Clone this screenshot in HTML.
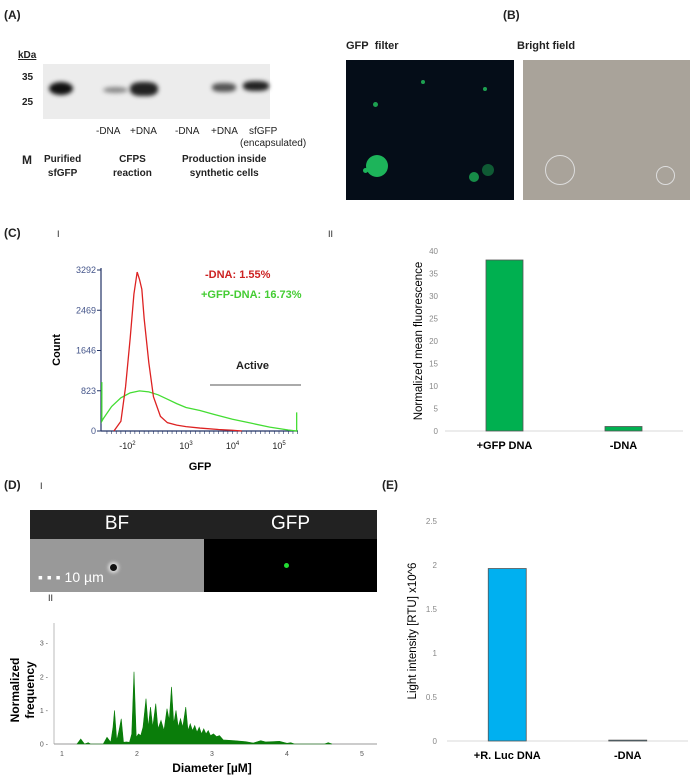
<!DOCTYPE html>
<html><head><meta charset="utf-8"><style>
body{margin:0;width:700px;height:782px;background:#fff;position:relative;overflow:hidden;font-family:"Liberation Sans",sans-serif}
.t{position:absolute;white-space:nowrap;color:#222}
.b{font-weight:bold}
svg{position:absolute;left:0;top:0}
</style></head><body>
<div class="t b" style="left:4px;top:8px;font-size:12px">(A)</div>
<div class="t b" style="left:18px;top:50px;font-size:10px;text-decoration:underline">kDa</div>
<div class="t b" style="left:22px;top:72px;font-size:10px">35</div>
<div class="t b" style="left:22px;top:97px;font-size:10px">25</div>
<div style="position:absolute;left:43px;top:64px;width:227px;height:55px;background:#ececec">
 <div style="position:absolute;left:6px;top:18px;width:24px;height:13px;border-radius:50%;background:#111;filter:blur(2px)"></div>
 <div style="position:absolute;left:60px;top:23px;width:25px;height:6px;border-radius:50%;background:#888;filter:blur(2px)"></div>
 <div style="position:absolute;left:87px;top:18px;width:28px;height:14px;border-radius:40%;background:#222;filter:blur(2px)"></div>
 <div style="position:absolute;left:169px;top:19px;width:24px;height:9px;border-radius:40%;background:#555;filter:blur(2px)"></div>
 <div style="position:absolute;left:200px;top:17px;width:26px;height:10px;border-radius:40%;background:#222;filter:blur(2px)"></div>
</div>
<div class="t" style="left:96px;top:126px;font-size:10px">-DNA</div>
<div class="t" style="left:130px;top:126px;font-size:10px">+DNA</div>
<div class="t" style="left:175px;top:126px;font-size:10px">-DNA</div>
<div class="t" style="left:211px;top:126px;font-size:10px">+DNA</div>
<div class="t" style="left:249px;top:126px;font-size:10px">sfGFP</div>
<div class="t" style="left:240px;top:138px;font-size:10px">(encapsulated)</div>
<div class="t b" style="left:22px;top:153px;font-size:12px">M</div>
<div class="t b" style="left:44px;top:153px;font-size:10px;text-align:center;line-height:14px">Purified<br>sfGFP</div>
<div class="t b" style="left:113px;top:153px;font-size:10px;text-align:center;line-height:14px">CFPS<br>reaction</div>
<div class="t b" style="left:182px;top:153px;font-size:10px;text-align:center;line-height:14px">Production inside<br>synthetic cells</div>

<div class="t b" style="left:503px;top:8px;font-size:12px">(B)</div>
<div class="t b" style="left:346px;top:40px;font-size:11px">GFP&nbsp; filter</div>
<div class="t b" style="left:517px;top:40px;font-size:11px">Bright field</div>
<div style="position:absolute;left:346px;top:60px;width:168px;height:140px;background:#050d18;overflow:hidden">
 <div style="position:absolute;left:20px;top:95px;width:22px;height:22px;border-radius:50%;background:#1db45a"></div>
 <div style="position:absolute;left:17px;top:108px;width:5px;height:5px;border-radius:50%;background:#1db45a"></div>
 <div style="position:absolute;left:27px;top:42px;width:5px;height:5px;border-radius:50%;background:#1da050"></div>
 <div style="position:absolute;left:75px;top:20px;width:4px;height:4px;border-radius:50%;background:#1da050"></div>
 <div style="position:absolute;left:137px;top:27px;width:4px;height:4px;border-radius:50%;background:#1da050"></div>
 <div style="position:absolute;left:123px;top:112px;width:10px;height:10px;border-radius:50%;background:#178c48"></div>
 <div style="position:absolute;left:136px;top:104px;width:12px;height:12px;border-radius:50%;background:#0f5a34"></div>
</div>
<div style="position:absolute;left:523px;top:60px;width:167px;height:140px;background:#a9a39a;overflow:hidden">
 <div style="position:absolute;left:22px;top:95px;width:28px;height:28px;border-radius:50%;border:1px solid #ddd"></div>
 <div style="position:absolute;left:133px;top:106px;width:17px;height:17px;border-radius:50%;border:1px solid #ddd"></div>
</div>

<div class="t b" style="left:4px;top:226px;font-size:12px">(C)</div>
<div class="t" style="left:57px;top:229px;font-size:9px">I</div>
<div class="t" style="left:328px;top:229px;font-size:9px">II</div>
<div class="t" style="left:48px;top:593px;font-size:9px">II</div>
<div class="t b" style="left:4px;top:587px;font-size:12px;top:478px">(D)</div>
<div class="t" style="left:40px;top:481px;font-size:9px">I</div>
<div class="t b" style="left:382px;top:478px;font-size:12px">(E)</div>

<div style="position:absolute;left:30px;top:510px;width:347px;height:82px;background:#222">
 <div class="t" style="left:0;width:174px;top:3px;text-align:center;color:#fff;font-size:19px">BF</div>
 <div class="t" style="left:174px;width:173px;top:3px;text-align:center;color:#fff;font-size:19px">GFP</div>
 <div style="position:absolute;left:0;top:29px;width:174px;height:53px;background:#999">
  <div style="position:absolute;left:80px;top:25px;width:7px;height:7px;border-radius:50%;background:#111;box-shadow:0 0 3px 2px #ddd"></div>
  <div class="t" style="left:8px;top:30px;color:#fff;font-size:14px">▪ ▪ ▪ 10 µm</div>
 </div>
 <div style="position:absolute;left:174px;top:29px;width:173px;height:53px;background:#000">
  <div style="position:absolute;left:80px;top:24px;width:5px;height:5px;border-radius:50%;background:#22dd33"></div>
 </div>
</div>

<svg id="s" width="700" height="782" font-family="Liberation Sans, sans-serif"></svg>
<script>
// C-I flow cytometry (x in log-decade units, y counts)
const redX=[1.45,1.6,1.7,1.8,1.88,1.95,2.0,2.05,2.1,2.2,2.3,2.45,2.6,2.8,3.0,3.3,3.7,4.0,4.2];
const redY=[0,200,900,1900,2800,3250,3100,2900,2300,1400,700,300,170,120,90,60,30,15,0];
const greenX=[1.19,1.19,1.22,1.4,1.6,1.8,2.0,2.2,2.4,2.6,2.8,3.0,3.3,3.6,4.0,4.4,4.8,5.2,5.38,5.38];
const greenY=[1000,200,250,500,680,780,820,800,740,650,560,480,420,340,240,160,80,20,0,380];
const flowTicksY=[0,823,1646,2469,3292];
const flowTicksX=[[1.74,"-10","2"],[3,"10","3"],[4,"10","4"],[5,"10","5"]];
// C-II
const fluoCats=["+GFP DNA","-DNA"];
const fluoVals=[38,1];
const fluoTicks=[0,5,10,15,20,25,30,35,40];
// E
const lucCats=["+R. Luc DNA","-DNA"];
const lucVals=[1.96,0.01];
const lucTicks=["0","0.5","1","1.5","2","2.5"];
// D-II histogram
const diamX=[1.2,1.25,1.3,1.35,1.38,1.42,1.55,1.6,1.65,1.68,1.7,1.73,1.76,1.79,1.82,1.86,1.9,1.93,1.96,1.99,2.02,2.05,2.08,2.12,2.15,2.18,2.21,2.25,2.28,2.32,2.36,2.4,2.43,2.46,2.49,2.52,2.55,2.58,2.61,2.65,2.68,2.71,2.74,2.77,2.8,2.83,2.86,2.89,2.92,2.95,2.98,3.02,3.06,3.1,3.15,3.3,3.45,3.55,3.65,3.72,3.8,3.9,4.0,4.05,4.1,4.5,4.55,4.6];
const freqY=[0,0.15,0,0.04,0,0,0,0.2,0.05,0.5,1.0,0.1,0.4,0.75,0.05,0.06,0.05,0.3,2.15,0.2,0.3,0.25,0.5,1.35,0.5,1.1,0.5,1.2,0.45,0.7,0.4,1.05,0.7,1.7,0.6,1.0,0.5,0.75,0.5,1.1,0.4,0.6,0.4,0.55,0.35,0.5,0.3,0.45,0.3,0.4,0.25,0.3,0.22,0.25,0.12,0.1,0.07,0.03,0.1,0.06,0.07,0.08,0.02,0.04,0,0,0.04,0];
const diamTicks=[1,2,3,4,5];
const freqTicks=[0,1,2,3];

const s=document.getElementById('s');const NS='http://www.w3.org/2000/svg';
function mk(tag,at,txt){const e=document.createElementNS(NS,tag);for(const k in at)e.setAttribute(k,at[k]);if(txt!==undefined)e.textContent=txt;s.appendChild(e);return e;}

// ---- C-I
const fx=v=>186+(v-3)*46.5, fy=c=>431-c/3292*161;
let e=mk('line',{x1:101,y1:268,x2:101,y2:431,stroke:'#223366','stroke-width':1.2});

e=mk('line',{x1:101,y1:431,x2:298,y2:431,stroke:'#223366','stroke-width':1.2});

flowTicksY.forEach(t=>{e=mk('text',{x:96,y:fy(t)+3,'font-size':9,fill:'#44558a','text-anchor':'end'},String(t));

mk('line',{x1:97,x2:101,y1:fy(t),y2:fy(t),stroke:'#223366'});});
flowTicksX.forEach(t=>{e=mk('text',{x:fx(t[0]),y:449,'font-size':9,fill:'#222','text-anchor':'middle'});

const a=document.createElementNS(NS,'tspan');a.textContent=t[1];e.appendChild(a);
const b=document.createElementNS(NS,'tspan');b.setAttribute('dy',-4);b.setAttribute('font-size',6);b.textContent=t[2];e.appendChild(b);});
for(let v=1.3;v<5.4;v+=0.1){mk('line',{x1:fx(v),x2:fx(v),y1:431,y2:434,stroke:'#223366','stroke-width':0.6});}
e=mk('polyline',{points:greenX.map((x,i)=>fx(x)+','+fy(greenY[i])).join(' '),fill:'none',stroke:'#44dd33','stroke-width':1.3});

e=mk('polyline',{points:redX.map((x,i)=>fx(x)+','+fy(redY[i])).join(' '),fill:'none',stroke:'#dd2222','stroke-width':1.3});

e=mk('text',{x:205,y:278,'font-size':11,'font-weight':'bold',fill:'#cc2222'},'-DNA: 1.55%');

e=mk('text',{x:201,y:298,'font-size':11,'font-weight':'bold',fill:'#44cc33'},'+GFP-DNA: 16.73%');

e=mk('text',{x:236,y:369,'font-size':11,'font-weight':'bold',fill:'#222'},'Active');

e=mk('line',{x1:210,x2:301,y1:385,y2:385,stroke:'#555'});

e=mk('text',{x:200,y:470,'font-size':11,'font-weight':'bold','text-anchor':'middle'},'GFP');

e=mk('text',{x:0,y:0,'font-size':11,'font-weight':'bold','text-anchor':'middle',transform:'translate(60,350) rotate(-90)'},'Count');


// generic bar chart
function bars(o){
 const ys=v=>o.y0-v/o.max*(o.y0-o.ytop);
 o.ticks.forEach(t=>{e=mk('text',{x:o.tx,y:ys(+t)+3,'font-size':8,fill:'#888','text-anchor':'end'},String(t));
 });
 e=mk('line',{x1:o.ax0,x2:o.ax1,y1:o.y0,y2:o.y0,stroke:'#d9d9d9'});
 
 const step=(o.ax1-o.ax0)/o.cats.length;
 o.vals.forEach((v,i)=>{const cx=o.ax0+step*(i+0.5);
  e=mk('rect',{x:cx-o.bw/2,y:ys(v),width:o.bw,height:o.y0-ys(v),fill:o.fill,stroke:'#555','stroke-width':0.8});
  
  e=mk('text',{x:cx,y:o.y0+18,'font-size':11,'font-weight':'bold','text-anchor':'middle'},o.cats[i]);
  });
 e=mk('text',{x:0,y:0,'font-size':11.5,'text-anchor':'middle',transform:'translate('+o.ttx+','+(o.y0+o.ytop)/2+') rotate(-90)'},o.title);
 
}
bars({cats:fluoCats,vals:fluoVals,ticks:fluoTicks,max:40,y0:431,ytop:251,ax0:445,ax1:683,bw:37,fill:'#00b050',tx:438,ttx:422,title:'Normalized mean fluorescence'});
bars({cats:lucCats,vals:lucVals,ticks:lucTicks,max:2.5,y0:741,ytop:521,ax0:447,ax1:688,bw:38,fill:'#00b0f0',tx:437,ttx:416,title:'Light intensity [RTU] x10^6'});

// ---- D-II
const dx=v=>62+(v-1)*75, dy=v=>744-v*33.6;
mk('line',{x1:54,x2:54,y1:623,y2:744,stroke:'#bbb'});
e=mk('line',{x1:54,x2:377,y1:744,y2:744,stroke:'#999'});

diamTicks.forEach(t=>{e=mk('text',{x:dx(t),y:756,'font-size':7,fill:'#555','text-anchor':'middle'},String(t));
});
freqTicks.forEach(t=>{e=mk('text',{x:48,y:dy(t)+2.5,'font-size':7,fill:'#555','text-anchor':'end'},t+' -');
});
e=mk('polygon',{points:dx(diamX[0])+','+dy(0)+' '+diamX.map((x,i)=>dx(x)+','+dy(freqY[i])).join(' ')+' '+dx(diamX[diamX.length-1])+','+dy(0),fill:'#0a7d0a',stroke:'#0a7d0a','stroke-width':0.6});

e=mk('text',{x:212,y:772,'font-size':12,'font-weight':'bold','text-anchor':'middle'},'Diameter [µM]');

e=mk('text',{x:0,y:0,'font-size':12,'font-weight':'bold','text-anchor':'middle',transform:'translate(19,690) rotate(-90)'},'Normalized');

e=mk('text',{x:0,y:0,'font-size':12,'font-weight':'bold','text-anchor':'middle',transform:'translate(34,690) rotate(-90)'},'frequency');

</script>
</body></html>
